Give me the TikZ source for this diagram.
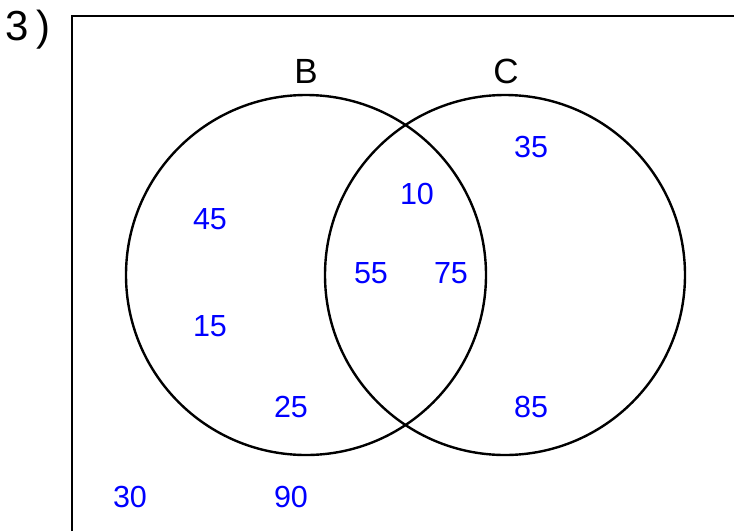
\documentclass[tikz,border=0pt]{standalone}
\usepackage{fontspec}
\setmainfont{Liberation Sans}
\tikzset{
  setcirc/.style={circle, draw, line width=2.4pt, minimum size=360pt, inner sep=0pt},
  setname/.style={font=\fontsize{35}{35}\selectfont},
  count/.style={font=\fontsize{30.5}{30.5}\selectfont, text=blue}
}
\begin{document}
\begin{tikzpicture}[x=1pt, y=-1pt]
%% 1 unit = 1pt = 1px of the 734x531 frame (y grows downwards)
\useasboundingbox (0,0) rectangle (734,531);

%% ---- Universe frame (runs off the right and bottom) ----
\draw[line width=2.6pt] (72,531) -- (72,16) -- (734,16);
\node[font=\fontsize{42}{42}\selectfont] (qnum) at (28,30) {3\,)};

%% ---- Sets ----
\node[setcirc] (setB) at (306,275) {};
\node[setcirc] (setC) at (505,275) {};
\node[setname] (nameB) at (306,71) {B};
\node[setname] (nameC) at (506,71) {C};

%% ---- Counts ----
\node[count] (nC1) at (531,147) {35};
\node[count] (nBC1) at (417,194) {10};
\node[count] (nB1) at (210,219) {45};
\node[count] (nBC2) at (371,273) {55};
\node[count] (nBC3) at (451,273) {75};
\node[count] (nB2) at (210,326) {15};
\node[count] (nB3) at (291,407) {25};
\node[count] (nC2) at (531,407) {85};
\node[count] (nU1) at (130,497) {30};
\node[count] (nU2) at (291,497) {90};
\end{tikzpicture}
\end{document}
